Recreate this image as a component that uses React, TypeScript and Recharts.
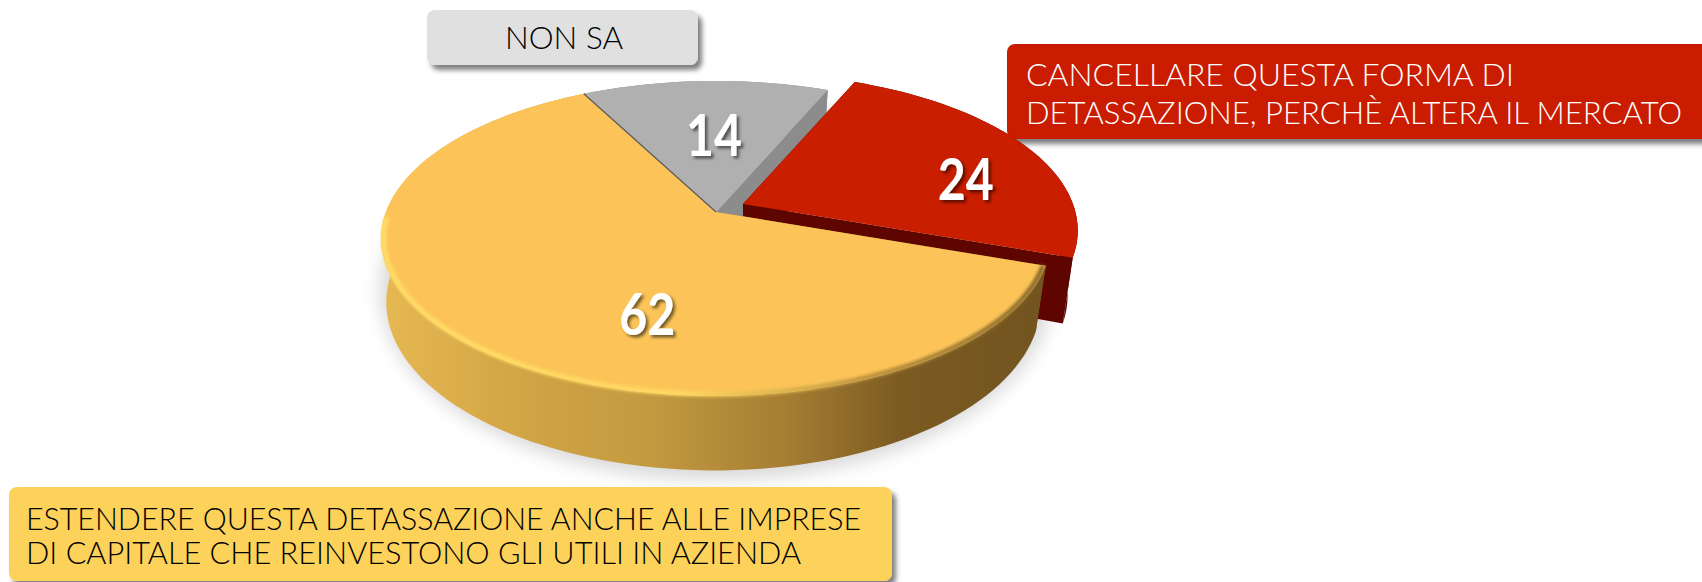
import React from 'react';
import { PieChart, Pie, Cell } from 'recharts';

const categories = ['NON SA', 'CANCELLARE', 'ESTENDERE'];
const values = [14, 24, 62];

const topColors = ['#B0B0B0', '#C91E00', '#FCC458'];
const wallColors = ['#8C8C8C', '#5F0500', 'url(#yellowWall)'];

// screen offsets
const explodeX = [0, 27, 0];
const explodeY = [0, -8, 0];
const labelShiftX = [5, 70, 77];
const labelShiftY = [7, 2, 23];

const CX = 716;
const CY = 212;
const RX = 330;
const RY = 153;
const DEPTH = 62;
const PERSP = 0.168;

// circle point -> tilted view
const top = (deg: number, r = 1) => {
  const a = (deg * Math.PI) / 180;
  const u = Math.cos(a) * r;
  const v = Math.sin(a) * r;
  const w = 1 + PERSP * v;
  return { x: CX + (RX * u) / w, y: CY - (RY * v) / w };
};

const bottom = (deg: number) => {
  const a = (deg * Math.PI) / 180;
  const u = Math.cos(a);
  const v = Math.sin(a);
  const w = 1 + PERSP * v;
  const shrink = u < 0 ? 0.985 : 0.97;
  return { x: CX + (RX * shrink * u) / w, y: CY + (DEPTH - RY * v) / w };
};

const arcPoints = (from: number, to: number, fn: (d: number) => { x: number; y: number }) => {
  const n = Math.max(2, Math.ceil(Math.abs(to - from) / 2));
  const pts = [];
  for (let i = 0; i <= n; i++) pts.push(fn(from + ((to - from) * i) / n));
  return pts;
};

const toPath = (pts: { x: number; y: number }[], close = true) =>
  pts.map((p, i) => `${i ? 'L' : 'M'}${p.x.toFixed(1)} ${p.y.toFixed(1)}`).join(' ') + (close ? ' Z' : '');

const Slice3D = (props: any) => {
  const { startAngle, endAngle, index } = props;
  const topArc = arcPoints(startAngle, endAngle, d => top(d));
  const baseArc = arcPoints(startAngle, endAngle, d => bottom(d));
  const apex = { x: CX, y: CY };
  const apexBase = { x: CX, y: CY + DEPTH };
  const wall = wallColors[index];
  const endTop = topArc[topArc.length - 1];
  const endBase = baseArc[baseArc.length - 1];

  return (
    <g transform={`translate(${explodeX[index]} ${explodeY[index]})`}>
      <path d={toPath([topArc[0], apex, apexBase, baseArc[0]])} fill={wall} />
      <path d={toPath([endTop, apex, apexBase, endBase])} fill={wall} />
      <path d={toPath([...topArc, ...baseArc.slice().reverse()])} fill={wall} />
      <path d={toPath([apex, ...topArc])} fill={topColors[index]} />
      {index === 2 && (
        <>
          <path
            d={toPath(arcPoints(-19.4, -178, d => top(d, 0.993)), false)}
            fill="none"
            stroke="url(#yellowRim)"
            strokeWidth={5}
            filter="url(#softEdge)"
          />
          <path d={toPath([apex, top(endAngle)], false)} stroke="#5A5A5A" strokeWidth={1.2} fill="none" />
        </>
      )}
    </g>
  );
};

const SliceLabel = (props: any) => {
  const { midAngle, value, index } = props;
  const p = top(midAngle, 0.62);
  return (
    <text
      x={p.x + labelShiftX[index]}
      y={p.y + labelShiftY[index]}
      textAnchor="middle"
      dominantBaseline="central"
      textLength={56}
      lengthAdjust="spacingAndGlyphs"
      fontFamily="Lato, sans-serif"
      fontWeight={700}
      fontSize={58}
      fill="#FFFFFF"
      filter="url(#labelShadow)"
    >
      {value}
    </text>
  );
};

const Callout = ({ x, y, w, h, fill, color, lines }: any) => (
  <g>
    <rect x={x} y={y} width={w} height={h} rx={8} fill={fill} filter="url(#boxShadow)" />
    {lines.map((l: any) => (
      <text
        key={l.text}
        x={l.x}
        y={l.y}
        textLength={l.len}
        lengthAdjust="spacingAndGlyphs"
        fontFamily="Lato, sans-serif"
        fontWeight={300}
        fontSize={32}
        fill={color}
      >
        {l.text}
      </text>
    ))}
  </g>
);

const data = categories.map((name, i) => ({ name, value: values[i] }));

export default function App() {
  return (
    <div style={{ position: 'absolute', left: 0, top: 0, width: 1702, height: 582, overflow: 'hidden', background: '#fff' }}>
      <PieChart width={1702} height={582} margin={{ top: 0, right: 0, bottom: 0, left: 0 }}>
        <defs>
          <linearGradient id="yellowWall" gradientUnits="userSpaceOnUse" x1={385} y1={0} x2={1045} y2={0}>
            <stop offset="0" stopColor="#E6B853" />
            <stop offset="0.2" stopColor="#D2A545" />
            <stop offset="0.4" stopColor="#C39A40" />
            <stop offset="0.6" stopColor="#A87F33" />
            <stop offset="0.78" stopColor="#7C5B22" />
            <stop offset="1" stopColor="#73541F" />
          </linearGradient>
          <linearGradient id="yellowRim" gradientUnits="userSpaceOnUse" x1={385} y1={0} x2={1045} y2={0}>
            <stop offset="0" stopColor="#FFDD66" />
            <stop offset="0.45" stopColor="#FFD862" />
            <stop offset="0.75" stopColor="#B98F3C" />
            <stop offset="1" stopColor="#8A6A2A" />
          </linearGradient>
          <filter id="softEdge" x="-5%" y="-5%" width="110%" height="110%">
            <feGaussianBlur stdDeviation="1.5" />
          </filter>
          <filter id="groundBlur" x="-20%" y="-20%" width="140%" height="140%">
            <feGaussianBlur stdDeviation="9" />
          </filter>
          <filter id="labelShadow" x="-30%" y="-30%" width="170%" height="170%">
            <feDropShadow dx="2.5" dy="2.5" stdDeviation="1.5" floodColor="#000" floodOpacity="0.55" />
          </filter>
          <filter id="boxShadow" x="-5%" y="-20%" width="110%" height="150%">
            <feDropShadow dx="4" dy="5" stdDeviation="2.5" floodColor="#000" floodOpacity="0.5" />
          </filter>
        </defs>
        <ellipse cx={716} cy={290} rx={336} ry={190} fill="#B4B4B4" opacity={0.5} filter="url(#groundBlur)" />
        <Pie
          data={data}
          dataKey="value"
          nameKey="name"
          cx={CX}
          cy={CY}
          outerRadius={150}
          startAngle={117.4}
          endAngle={-242.6}
          paddingAngle={0}
          stroke="none"
          shape={Slice3D}
          activeShape={Slice3D}
          inactiveShape={Slice3D}
          label={SliceLabel}
          labelLine={false}
          isAnimationActive={false}
          rootTabIndex={-1}
        >
          {data.map(d => (
            <Cell key={d.name} />
          ))}
        </Pie>
        <Callout
          x={427}
          y={10}
          w={271}
          h={55}
          fill="#E0E0E0"
          color="#000"
          lines={[{ text: 'NON SA', x: 505, y: 49, len: 118 }]}
        />
        <Callout
          x={1007}
          y={44}
          w={710}
          h={95}
          fill="#C91E00"
          color="#fff"
          lines={[
            { text: 'CANCELLARE QUESTA FORMA DI', x: 1026, y: 86, len: 488 },
            { text: 'DETASSAZIONE, PERCHÈ ALTERA IL MERCATO', x: 1026, y: 124, len: 656 },
          ]}
        />
        <Callout
          x={9}
          y={487}
          w={883}
          h={94}
          fill="#FCD25A"
          color="#000"
          lines={[
            { text: 'ESTENDERE QUESTA DETASSAZIONE ANCHE ALLE IMPRESE', x: 26, y: 530, len: 835 },
            { text: 'DI CAPITALE CHE REINVESTONO GLI UTILI IN AZIENDA', x: 26, y: 564, len: 775 },
          ]}
        />
      </PieChart>
    </div>
  );
}
